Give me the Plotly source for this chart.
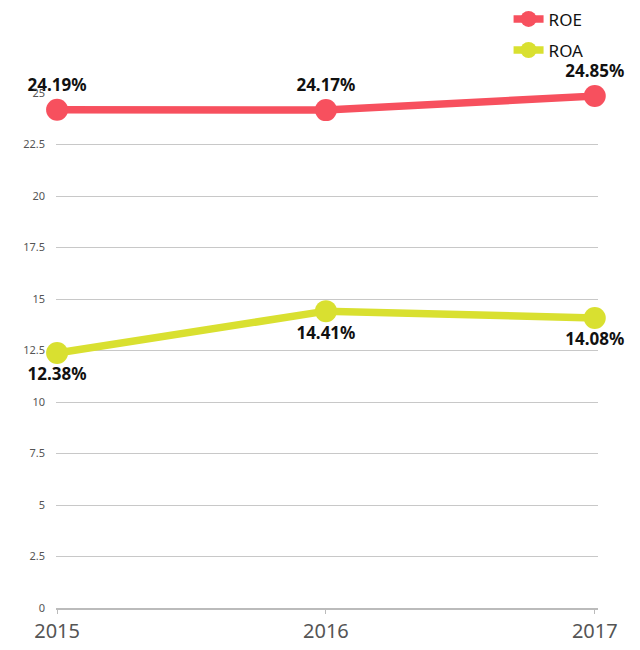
import plotly.graph_objects as go

years = [2015, 2016, 2017]
roe = [24.19, 24.17, 24.85]
roa = [12.38, 14.41, 14.08]
roe_labels = ["24.19%", "24.17%", "24.85%"]
roa_labels = ["12.38%", "14.41%", "14.08%"]
y_ticks = [0, 2.5, 5, 7.5, 10, 12.5, 15, 17.5, 20, 22.5, 25]
y_tick_text = ["0", "2.5", "5", "7.5", "10", "12.5", "15", "17.5", "20", "22.5", "25"]

ROE_COLOR = "#F7505E"
ROA_COLOR = "#D9E030"
FONT = "Noto Sans"

fig = go.Figure()
fig.add_trace(go.Scatter(
    x=years, y=roe, name="ROE", mode="lines+markers+text",
    line=dict(color=ROE_COLOR, width=7.5),
    marker=dict(color=ROE_COLOR, size=22),
    text=roe_labels, textposition="top center",
    textfont=dict(family=FONT, size=17, color="#111111", weight="bold"),
    cliponaxis=False, legendgroup="a",
))
fig.add_trace(go.Scatter(
    x=years, y=roa, name="ROA", mode="lines+markers+text",
    line=dict(color=ROA_COLOR, width=7.5),
    marker=dict(color=ROA_COLOR, size=22),
    text=roa_labels, textposition="bottom center",
    textfont=dict(family=FONT, size=17, color="#111111", weight="bold"),
    cliponaxis=False, legendgroup="b",
))

fig.update_layout(
    width=632, height=642,
    margin=dict(l=48, r=42, t=85, b=42, autoexpand=False),
    plot_bgcolor="white", paper_bgcolor="white",
    font=dict(family=FONT),
    showlegend=True,
    legend=dict(x=0.835, xanchor="left", y=1.178, yanchor="top",
                font=dict(family=FONT, size=17, color="#111111"),
                tracegroupgap=6, bgcolor="rgba(0,0,0,0)"),
    xaxis=dict(
        range=[2015 - 0.004, 2017 + 0.012],
        tickmode="array", tickvals=years, ticktext=[str(y) for y in years],
        tickfont=dict(family=FONT, size=20, color="#555555"),
        showgrid=False, zeroline=False,
        showline=True, linecolor="#BBBBBB", linewidth=2,
        ticks="outside", ticklen=4, tickcolor="#BBBBBB",
    ),
    yaxis=dict(
        range=[0, 25],
        tickmode="array", tickvals=y_ticks, ticktext=y_tick_text,
        tickfont=dict(family=FONT, size=11, color="#555555"),
        showgrid=True, gridcolor="#C8C8C8", gridwidth=1,
        zeroline=False, showline=False,
        ticks="", ticklabelstandoff=10,
    ),
)

fig.write_html("out.html")
